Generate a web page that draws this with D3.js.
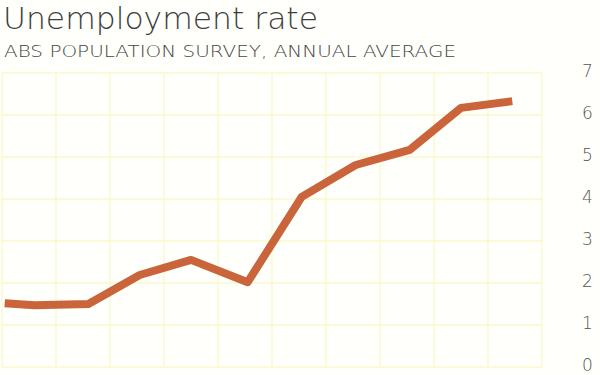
<!DOCTYPE html>
<html>
<head>
<meta charset="utf-8">
<script src="https://cdn.jsdelivr.net/npm/d3@7"></script>
<style>
  body { margin: 0; background: #fffffb; }
  svg { display: block; }
</style>
</head>
<body>
<div id="chart"></div>
<script>
// position along the time axis (in grid columns) and unemployment rate, %
var periods = [0.05, 0.6, 1.6, 2.55, 3.5, 4.55, 5.55, 6.55, 7.55, 8.5, 9.45];
var rates = [1.52, 1.47, 1.5, 2.19, 2.55, 2.02, 4.05, 4.81, 5.17, 6.17, 6.33];
var yTicks = [0, 1, 2, 3, 4, 5, 6, 7];
var columns = d3.range(0, 11);

var width = 600, height = 375;
var font = "'DejaVu Sans', 'Noto Sans', sans-serif";
var svg = d3.select("#chart").append("svg").attr("width", width).attr("height", height);

var x = d3.scaleLinear().domain([0, 10]).range([2, 542]);
var y = d3.scaleLinear().domain([0, 7]).range([367, 73]);

//grid
var grid = svg.append("g").attr("stroke", "#fbf7cc").attr("stroke-width", 1.3);
grid.selectAll(".h").data(yTicks).enter().append("line")
    .attr("x1", x(0)).attr("x2", x(10))
    .attr("y1", function(d) { return y(d); }).attr("y2", function(d) { return y(d); });
grid.selectAll(".v").data(columns).enter().append("line")
    .attr("x1", function(d) { return x(d); }).attr("x2", function(d) { return x(d); })
    .attr("y1", y(0)).attr("y2", y(7));

//axis labels on the right
var axis = svg.append("g").attr("transform", "translate(582,0)")
    .call(d3.axisRight(y).tickValues(yTicks).tickSize(0).tickPadding(0).tickFormat(d3.format("d")));
axis.select(".domain").remove();
axis.selectAll("text")
    .attr("font-family", font)
    .attr("font-weight", 200)
    .attr("font-size", 17)
    .attr("fill", "#555")
    .attr("dy", "0.2em");

//the line
var line = d3.line()
    .x(function(d, i) { return x(periods[i]); })
    .y(function(d) { return y(d); });
svg.append("path").datum(rates)
    .attr("d", line)
    .attr("fill", "none")
    .attr("stroke", "#c9643b")
    .attr("stroke-width", 8)
    .attr("stroke-linejoin", "round");

//titles
svg.append("text").text("Unemployment rate")
    .attr("x", 3).attr("y", 29)
    .attr("font-family", font)
    .attr("font-weight", 200)
    .attr("font-size", 30)
    .attr("fill", "#3d3d3d")
    .attr("textLength", 315).attr("lengthAdjust", "spacingAndGlyphs");
svg.append("text").text("ABS POPULATION SURVEY, ANNUAL AVERAGE")
    .attr("x", 4).attr("y", 57)
    .attr("font-family", font)
    .attr("font-weight", 200)
    .attr("font-size", 15)
    .attr("fill", "#444")
    .attr("textLength", 452).attr("lengthAdjust", "spacingAndGlyphs");
</script>
</body>
</html>
